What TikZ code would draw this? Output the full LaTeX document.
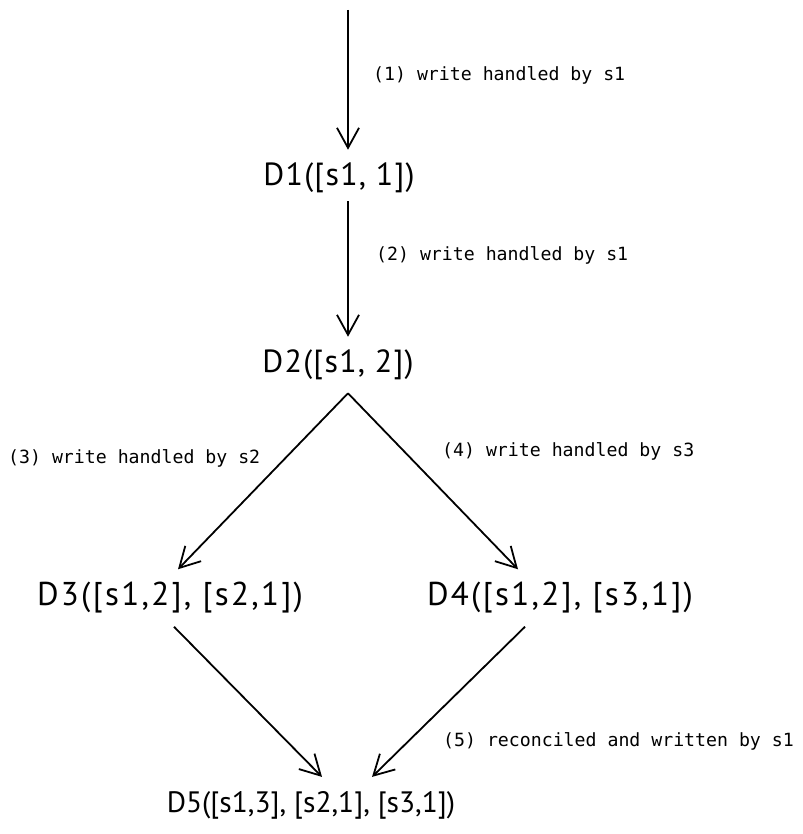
\documentclass[tikz,border=0pt]{standalone}
\usepackage{fontspec}
\setmainfont{PT Sans}
\newfontfamily\lblfont{DejaVu Sans Mono}
\newfontfamily\wideD[LetterSpace=7]{PT Sans}
\newfontfamily\narrowD{PT Sans}
\usetikzlibrary{arrows.meta,calc}
\begin{document}
\begin{tikzpicture}[x=1pt,y=-1pt,
  vnode/.style={inner xsep=0pt,inner ysep=13pt,font=\addfontfeature{LetterSpace=4}\fontsize{32}{34}\selectfont},
  widenode/.style={vnode,font=\wideD\fontsize{33}{34}\selectfont},
  narrownode/.style={vnode,font=\narrowD\fontsize{29.5}{34}\selectfont,inner ysep=14pt},
  lbl/.style={anchor=west,inner sep=0pt,font=\lblfont\fontsize{18.2}{20}\selectfont},
  arr/.style={line width=1.8pt,-{Straight Barb[length=20pt,width=22pt,line width=1.8pt]}}]
\useasboundingbox[fill=white] (0,0) rectangle (802,834);
\coordinate (top) at (348,10);
\node[vnode] (d1) at (339,178) {D1([s1, 1])};
\node[vnode] (d2) at (338,365) {D2([s1, 2])};
\node[widenode] (d3) at (170,598) {D3([s1,2], [s2,1])};
\node[widenode] (d4) at (560,598) {D4([s1,2], [s3,1])};
\node[narrownode] (d5) at (311,805) {D5([s1,3], [s2,1], [s3,1])};
\node[lbl] (l1) at (373,75) {(1) write handled by s1};
\node[lbl] (l2) at (376,255) {(2) write handled by s1};
\node[lbl] (l3) at (8,458) {(3) write handled by s2};
\node[lbl] (l4) at (442,451) {(4) write handled by s3};
\node[lbl] (l5) at (443,741) {(5) reconciled and written by s1};
\draw[arr] (top) -- ($(d1.north)+(9,0)$);
\draw[arr] ($(d1.south)+(9,-5)$) -- ($(d2.north)+(10,0)$);
\draw[arr] ($(d2.south)+(10,0)$) -- ($(d3.north)+(8,0)$);
\draw[arr] ($(d2.south)+(10,0)$) -- ($(d4.north)+(-42,0)$);
\draw[arr] ($(d3.south)+(4,0)$) -- ($(d5.north)+(11,0)$);
\draw[arr] ($(d4.south)+(-35,0)$) -- ($(d5.north)+(61,0)$);
\end{tikzpicture}
\end{document}
